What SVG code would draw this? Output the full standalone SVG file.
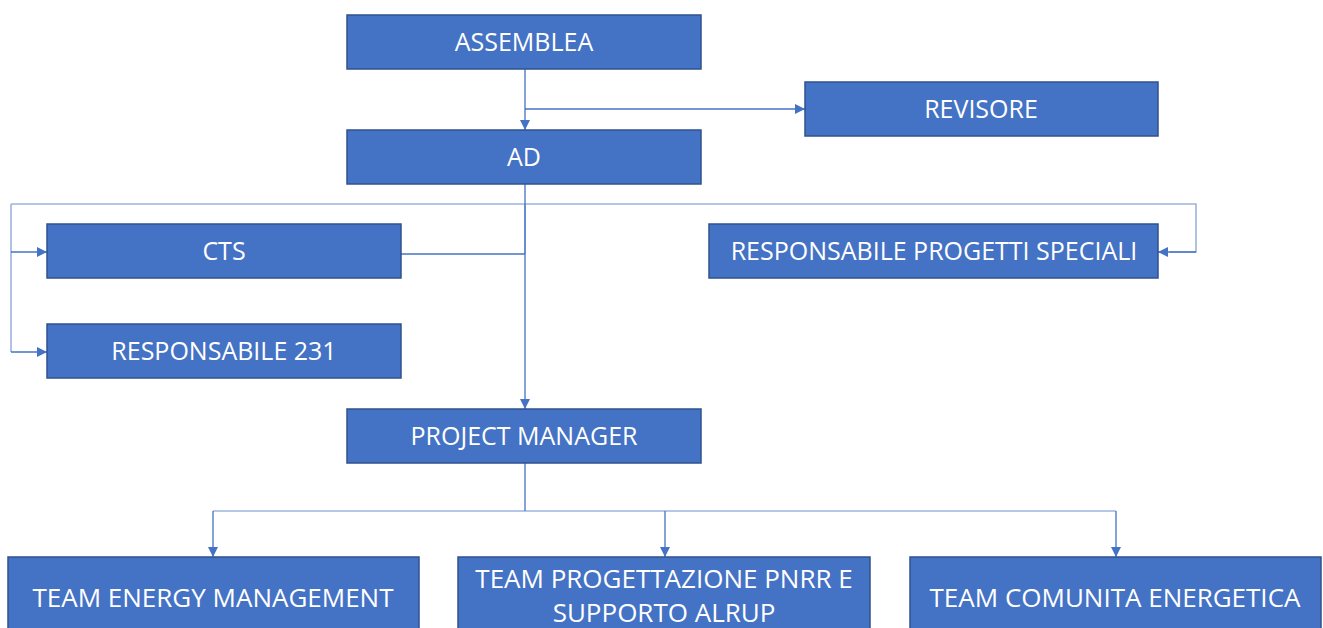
<svg xmlns="http://www.w3.org/2000/svg" width="1323" height="628" viewBox="0 0 1323 628">
<style>
.box{fill:#4472C4;stroke:#2F528F;stroke-width:1.5}
.t{fill:#fff;font-family:"Open Sans","Liberation Sans",sans-serif;font-size:25px;text-anchor:middle}
.b{font-size:26px}
.c{fill:none;stroke:#4472C4;stroke-width:1.3}
.l{fill:none;stroke:#9DB3DE;stroke-width:1.6}
</style>
<defs>
<marker id="arr" viewBox="0 0 10 10" refX="10" refY="5" markerWidth="10" markerHeight="10" markerUnits="userSpaceOnUse" orient="auto">
<path d="M0,0 L10,5 L0,10 Z" fill="#4472C4"/>
</marker>
</defs>
<rect width="1323" height="628" fill="#fff"/>
<g id="connectors">
<path class="l" d="M11,204 H1196 V252 H1170"/>
<path class="l" d="M525,204 V254"/>
<path class="l" d="M11,204 V352"/>
<path class="l" d="M213,511 H1116"/>
<path class="c" d="M525,69 V130" marker-end="url(#arr)"/>
<path class="c" d="M525,109 H805" marker-end="url(#arr)"/>
<path class="c" d="M525,184 V409" marker-end="url(#arr)"/>
<path class="c" d="M401,254 H525"/>
<path class="c" d="M11,252 H47" marker-end="url(#arr)"/>
<path class="c" d="M11,352 H47" marker-end="url(#arr)"/>
<path class="c" d="M1196,252 H1158" marker-end="url(#arr)"/>
<path class="c" d="M525,463 V511"/>
<path class="c" d="M213,511 V557" marker-end="url(#arr)"/>
<path class="c" d="M665,511 V557" marker-end="url(#arr)"/>
<path class="c" d="M1116,511 V557" marker-end="url(#arr)"/>
</g>
<g id="assemblea"><rect class="box" x="347" y="15" width="354" height="54"/><text class="t" x="524" y="51">ASSEMBLEA</text></g>
<g id="revisore"><rect class="box" x="805" y="82" width="353" height="54"/><text class="t" x="981" y="118">REVISORE</text></g>
<g id="ad"><rect class="box" x="347" y="130" width="354" height="54"/><text class="t" x="524" y="166">AD</text></g>
<g id="cts"><rect class="box" x="47" y="224" width="354" height="54"/><text class="t" x="224" y="260">CTS</text></g>
<g id="resp-speciali"><rect class="box" x="709" y="224" width="449" height="54"/><text class="t" x="934" y="260">RESPONSABILE PROGETTI SPECIALI</text></g>
<g id="resp-231"><rect class="box" x="47" y="324" width="354" height="54"/><text class="t" x="224" y="360">RESPONSABILE 231</text></g>
<g id="pm"><rect class="box" x="347" y="409" width="354" height="54"/><text class="t" x="524" y="445">PROJECT MANAGER</text></g>
<g id="team-energy"><rect class="box" x="8" y="557" width="411" height="100"/><text class="t b" x="213" y="607">TEAM ENERGY MANAGEMENT</text></g>
<g id="team-pnrr"><rect class="box" x="458" y="557" width="412" height="100"/><text class="t b" x="664" y="588">TEAM PROGETTAZIONE PNRR E</text><text class="t b" x="664" y="622">SUPPORTO ALRUP</text></g>
<g id="team-comunita"><rect class="box" x="910" y="557" width="411" height="100"/><text class="t b" x="1115" y="607">TEAM COMUNITA ENERGETICA</text></g>
</svg>
